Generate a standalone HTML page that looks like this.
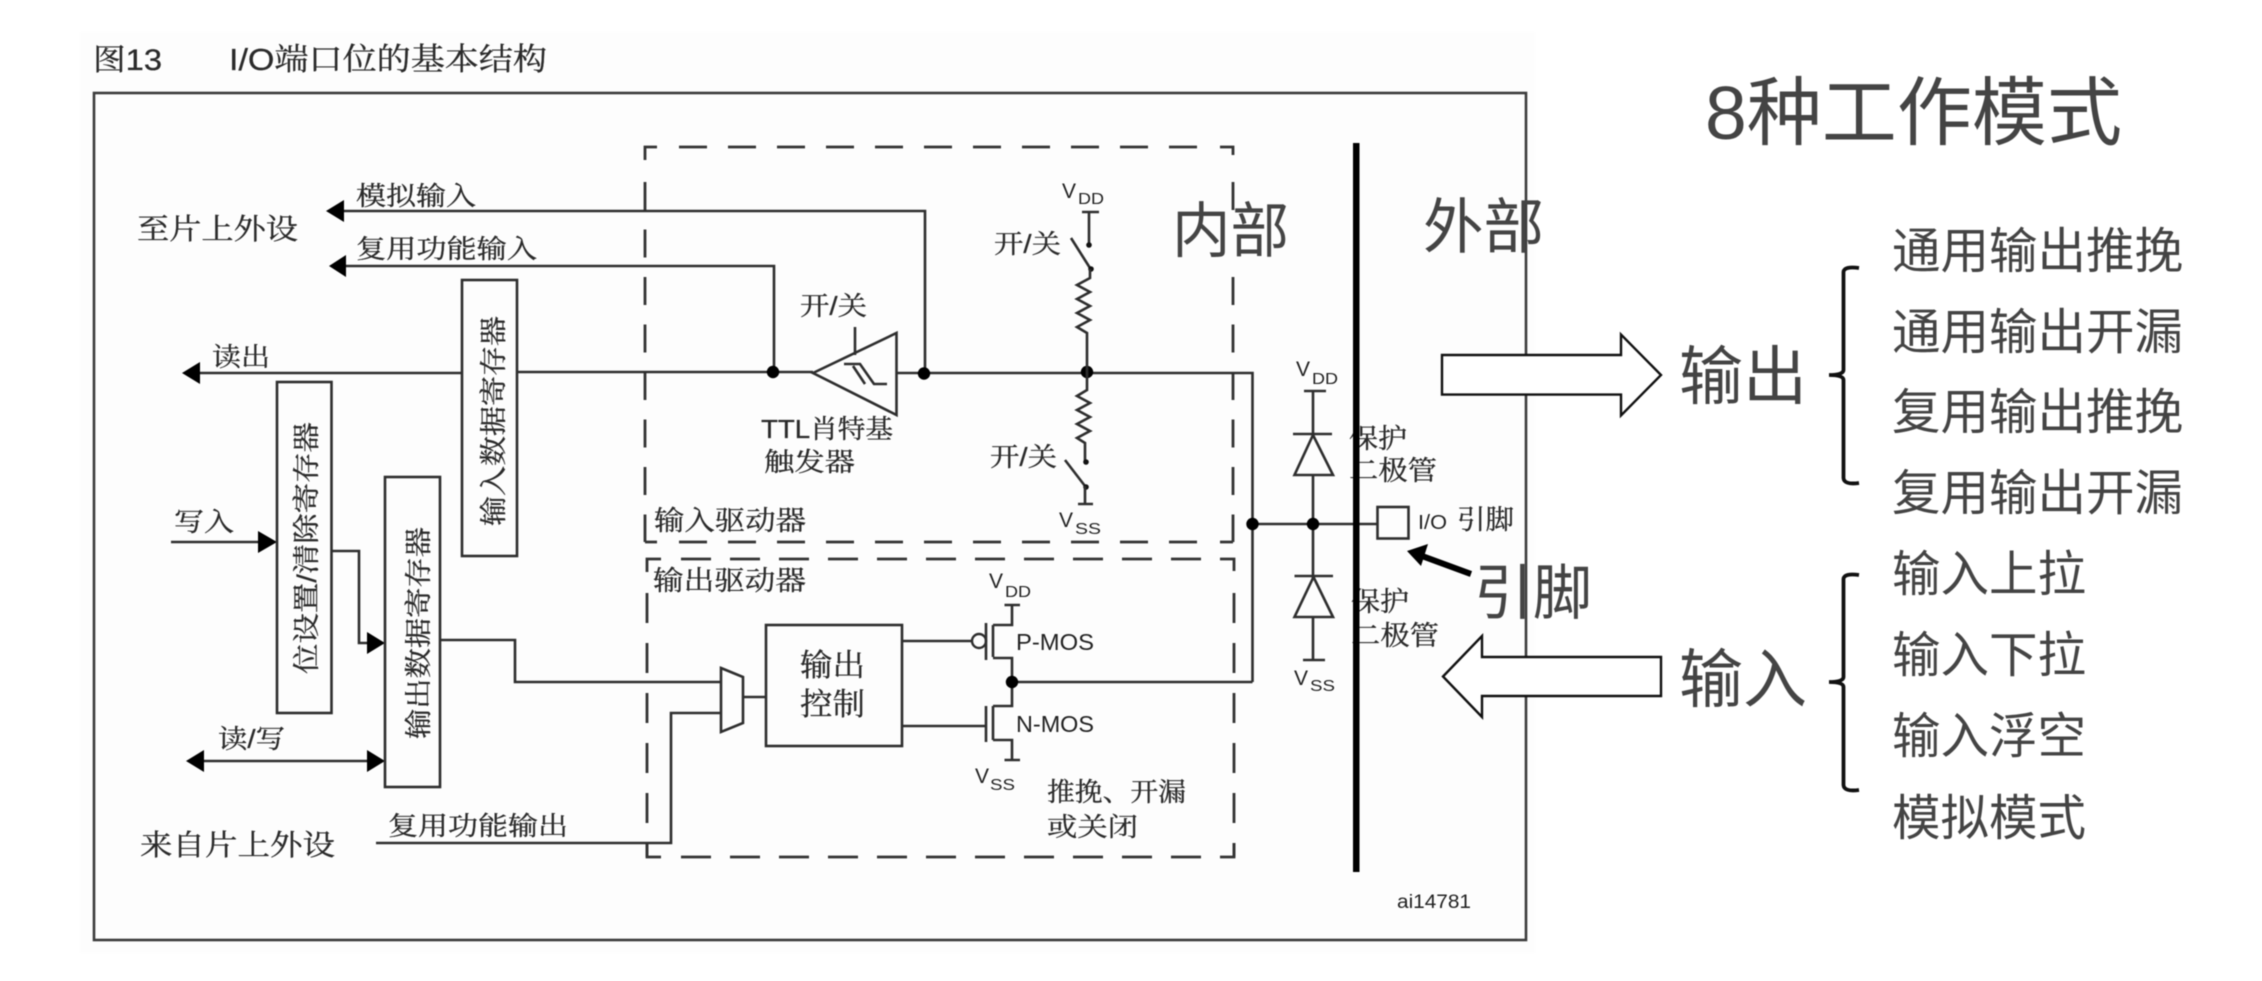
<!DOCTYPE html>
<html lang="zh"><head><meta charset="utf-8"><title>I/O端口位的基本结构</title>
<style>
html,body{margin:0;padding:0;background:#fff;width:2262px;height:981px;overflow:hidden}
svg{display:block;filter:blur(.4px)}
text{font-family:"Liberation Sans","Noto Serif CJK SC",serif;fill:#2a2a2a;stroke:#2a2a2a;stroke-width:.3}
.b{font-family:"Liberation Sans","Noto Sans CJK SC",sans-serif;fill:#444;stroke:none}
.l{font-family:"Liberation Sans",sans-serif;fill:#222;stroke:none}
.w{fill:none;stroke:#2e2e2e;stroke-width:2.6}
.d{fill:none;stroke:#333;stroke-width:2.8}
.dh{fill:none;stroke:#333;stroke-width:2.8;stroke-dasharray:28 21}
.dv{fill:none;stroke:#333;stroke-width:2.8;stroke-dasharray:28 19.500}
.dv2{fill:none;stroke:#333;stroke-width:2.8;stroke-dasharray:30 20}
.a{fill:#000;stroke:none}
</style></head><body>
<svg xmlns="http://www.w3.org/2000/svg" width="2262" height="981" viewBox="0 0 2262 981">
<rect width="2262" height="981" fill="#fff"/>
<rect x="80" y="32" width="1455" height="921" fill="#fdfdfd"/>
<rect x="94" y="93" width="1432" height="847" fill="none" stroke="#3c3c3c" stroke-width="2.6"/>

<text x="93" y="70" font-size="30" textLength="69" lengthAdjust="spacingAndGlyphs">图13</text>
<text x="229" y="70" font-size="31" textLength="318" lengthAdjust="spacingAndGlyphs">I/O端口位的基本结构</text>

<!-- dashed boxes: input driver -->
<path class="d" d="M645,160V147H657M1220,147H1233V155"/>
<path class="dh" d="M679,147H1200"/>
<path class="dv" d="M645,182V542"/>
<path class="dv" d="M1233,182V542"/>
<path class="dh" d="M679,542H1200"/>
<path class="d" d="M645,542H657M1220,542H1233"/>
<rect x="1225" y="212" width="16" height="60" fill="#fdfdfd"/>
<!-- dashed boxes: output driver -->
<path class="d" d="M647,572V559H661M1220,559H1234V571"/>
<path class="dh" d="M681,559H1205" style="stroke-dasharray:30 19"/>
<path class="dv2" d="M647,593V857"/>
<path class="dv2" d="M1234,593V857"/>
<path class="dh" d="M681,857H1205" style="stroke-dasharray:30 19"/>
<path class="d" d="M647,843V857H661M1220,857H1234V843"/>

<!-- wires -->
<path class="w" d="M344,211H925V373"/>
<path class="w" d="M346,266H774V372"/>
<path class="w" d="M200,373H462M517,372H813M895,373H1252.500V682"/>
<path class="w" d="M171,542H258"/>
<path class="w" d="M331,551H359V643H367"/>
<path class="w" d="M204,761H367"/>
<path class="w" d="M440,640H515V682H721"/>
<path class="w" d="M376,843H671V713H721"/>
<path class="w" d="M743,697H766"/>
<path class="w" d="M902,641H972M902,726H986"/>
<path class="w" d="M1012,682H1252.500"/>
<path class="w" d="M1252.500,524H1377"/>

<!-- arrowheads -->
<path class="a" d="M326,211L344,200V222Z"/>
<path class="a" d="M329,266L346,255V277Z"/>
<path class="a" d="M182,373L200,362V384Z"/>
<path class="a" d="M277,542L258,531V553Z"/>
<path class="a" d="M385,643L367,632V654Z"/>
<path class="a" d="M186,761L204,750V772Z"/>
<path class="a" d="M385,761L367,750V772Z"/>

<!-- registers -->
<rect x="462" y="280" width="55" height="276" class="w" style="fill:#fdfdfd"/>
<rect x="277" y="382" width="54.500" height="331" class="w" style="fill:#fdfdfd"/>
<rect x="385" y="477" width="55" height="310" class="w" style="fill:#fdfdfd"/>
<text transform="translate(503,526) rotate(-90)" font-size="27" textLength="210" lengthAdjust="spacingAndGlyphs">输入数据寄存器</text>
<text transform="translate(316,674) rotate(-90)" font-size="27" textLength="252" lengthAdjust="spacingAndGlyphs">位设置/清除寄存器</text>
<text transform="translate(428,739) rotate(-90)" font-size="27" textLength="212" lengthAdjust="spacingAndGlyphs">输出数据寄存器</text>

<!-- schmitt trigger -->
<path class="w" d="M813,373L896.500,333V415Z" style="fill:#fdfdfd"/>
<path class="w" d="M855,327V355"/>
<path class="w" d="M844,364H860L874,384H887M853,366L865,384"/>
<circle cx="773" cy="372" r="6.200" fill="#000"/>
<circle cx="924" cy="373.500" r="6.200" fill="#000"/>
<circle cx="1087" cy="372" r="6.200" fill="#000"/>

<!-- pull up / down -->
<path class="w" d="M1082,212H1099M1089,212V245"/>
<circle cx="1089" cy="245" r="2.800" fill="#111"/>
<path class="w" d="M1071,238L1090,268"/>
<circle cx="1091" cy="269" r="2.800" fill="#111"/>
<path class="w" d="M1090,269V278L1077,285L1090,292L1077,299L1090,306L1077,313L1090,320L1077,327L1087,333V372"/>
<path class="w" d="M1087,372V390L1077,396L1090,403L1077,410L1090,417L1077,424L1090,431L1077,438L1085,443V462"/>
<circle cx="1086" cy="462" r="2.800" fill="#111"/>
<path class="w" d="M1065,460L1085,486"/>
<circle cx="1086" cy="487" r="2.800" fill="#111"/>
<path class="w" d="M1085,486V504M1078,504H1093"/>

<!-- output stage -->
<path class="w" d="M721,668L743,677V723L721,732Z" style="fill:#fdfdfd"/>
<rect x="766" y="625" width="136" height="121" class="w" style="fill:#fdfdfd"/>
<circle cx="979" cy="641" r="7" fill="#fdfdfd" stroke="#2e2e2e" stroke-width="2.400"/>
<path class="w" d="M986,623V660M993,625V657M993,625H1012V605M1004.500,605H1020M993,658H1012V706H993M993,706V740M986,706V742M993,740H1012V760M1004.500,760H1020"/>
<circle cx="1012" cy="682" r="6.200" fill="#000"/>

<!-- diodes -->
<path class="w" d="M1304,391H1326M1313,391V660M1303,660H1325"/>
<path class="w" d="M1293,434H1332M1313,435L1294.500,475H1333Z" style="fill:#fdfdfd"/>
<path class="w" d="M1294.500,576H1333M1313.500,577L1294.500,617H1333Z" style="fill:#fdfdfd"/>
<circle cx="1252.500" cy="524" r="6.200" fill="#000"/>
<circle cx="1313" cy="524" r="6.200" fill="#000"/>

<!-- labels -->
<text x="137" y="239" font-size="29" textLength="161" lengthAdjust="spacingAndGlyphs">至片上外设</text>
<text x="356" y="205" font-size="26" textLength="120" lengthAdjust="spacingAndGlyphs">模拟输入</text>
<text x="356" y="258" font-size="26" textLength="181" lengthAdjust="spacingAndGlyphs">复用功能输入</text>
<text x="212" y="366" font-size="26" textLength="58" lengthAdjust="spacingAndGlyphs">读出</text>
<text x="174" y="531" font-size="26" textLength="60" lengthAdjust="spacingAndGlyphs">写入</text>
<text x="218" y="748" font-size="26" textLength="67" lengthAdjust="spacingAndGlyphs">读/写</text>
<text x="140" y="855" font-size="29" textLength="195" lengthAdjust="spacingAndGlyphs">来自片上外设</text>
<text x="388" y="835" font-size="26" textLength="180" lengthAdjust="spacingAndGlyphs">复用功能输出</text>
<text x="800" y="315" font-size="26" textLength="67" lengthAdjust="spacingAndGlyphs">开/关</text>
<text x="994" y="253" font-size="26" textLength="67" lengthAdjust="spacingAndGlyphs">开/关</text>
<text x="990" y="466" font-size="26" textLength="67" lengthAdjust="spacingAndGlyphs">开/关</text>
<text x="761" y="438" font-size="26" textLength="132" lengthAdjust="spacingAndGlyphs">TTL肖特基</text>
<text x="764" y="471" font-size="26" textLength="91" lengthAdjust="spacingAndGlyphs">触发器</text>
<text x="654" y="530" font-size="27" textLength="152" lengthAdjust="spacingAndGlyphs">输入驱动器</text>
<text x="653" y="590" font-size="27" textLength="153" lengthAdjust="spacingAndGlyphs">输出驱动器</text>
<text x="800" y="676" font-size="31" textLength="65" lengthAdjust="spacingAndGlyphs">输出</text>
<text x="800" y="715" font-size="31" textLength="65" lengthAdjust="spacingAndGlyphs">控制</text>
<text class="l" x="1016" y="650" font-size="23" textLength="78" lengthAdjust="spacingAndGlyphs">P-MOS</text>
<text class="l" x="1016" y="732" font-size="23" textLength="78" lengthAdjust="spacingAndGlyphs">N-MOS</text>
<text x="1047" y="801" font-size="26" textLength="139" lengthAdjust="spacingAndGlyphs">推挽、开漏</text>
<text x="1047" y="836" font-size="26" textLength="91" lengthAdjust="spacingAndGlyphs">或关闭</text>

<text class="l" x="1062" y="198" font-size="21">V</text><text class="l" x="1078" y="204" font-size="16" textLength="26" lengthAdjust="spacingAndGlyphs">DD</text>
<text class="l" x="1059" y="527" font-size="21">V</text><text class="l" x="1075" y="534" font-size="16" textLength="26" lengthAdjust="spacingAndGlyphs">SS</text>
<text class="l" x="1296" y="376" font-size="21">V</text><text class="l" x="1312" y="384" font-size="16" textLength="26" lengthAdjust="spacingAndGlyphs">DD</text>
<text class="l" x="1294" y="685" font-size="21">V</text><text class="l" x="1310" y="691" font-size="16" textLength="25" lengthAdjust="spacingAndGlyphs">SS</text>
<text class="l" x="989" y="588" font-size="21">V</text><text class="l" x="1005" y="597" font-size="16" textLength="26" lengthAdjust="spacingAndGlyphs">DD</text>
<text class="l" x="975" y="783" font-size="21">V</text><text class="l" x="990" y="790" font-size="16" textLength="25" lengthAdjust="spacingAndGlyphs">SS</text>

<text x="1349" y="448" font-size="27" textLength="58" lengthAdjust="spacingAndGlyphs">保护</text>
<text x="1349" y="480" font-size="27" textLength="88" lengthAdjust="spacingAndGlyphs">二极管</text>
<text x="1351" y="611" font-size="27" textLength="58" lengthAdjust="spacingAndGlyphs">保护</text>
<text x="1351" y="645" font-size="27" textLength="88" lengthAdjust="spacingAndGlyphs">二极管</text>

<text class="l" x="1418" y="529" font-size="20" textLength="29" lengthAdjust="spacingAndGlyphs">I/O</text>
<text x="1457" y="529" font-size="27" textLength="57" lengthAdjust="spacingAndGlyphs">引脚</text>
<text class="l" x="1397" y="908" font-size="19" textLength="74" lengthAdjust="spacingAndGlyphs">ai14781</text>

<!-- center bar -->
<rect x="1353" y="143" width="6.500" height="729" fill="#000"/>
<rect x="1377.500" y="507" width="31" height="31.500" class="w" style="fill:#fdfdfd"/>

<!-- small arrow -->
<path d="M1471,574L1422,556" stroke="#000" stroke-width="6" fill="none"/>
<path class="a" d="M1407,551L1428,544L1421,566Z"/>

<!-- overlays -->
<text class="b" x="1172" y="252" font-size="60" textLength="117" lengthAdjust="spacingAndGlyphs">内部</text>
<text class="b" x="1423" y="248" font-size="60" textLength="121" lengthAdjust="spacingAndGlyphs">外部</text>
<text class="b" x="1474" y="614" font-size="60" textLength="118" lengthAdjust="spacingAndGlyphs">引脚</text>
<text class="b" x="1705" y="139" font-size="75" textLength="417" lengthAdjust="spacingAndGlyphs">8种工作模式</text>

<path d="M1442,355H1621V334.500L1661,375L1621,415.500V394.600H1442Z" fill="#fff" stroke="#111" stroke-width="2.400"/>
<path d="M1443,676.500L1482,636V657H1661V696H1482V717Z" fill="#fff" stroke="#111" stroke-width="2.400"/>

<text class="b" x="1679" y="399" font-size="64" textLength="128" lengthAdjust="spacingAndGlyphs">输出</text>
<text class="b" x="1679" y="702" font-size="64" textLength="128" lengthAdjust="spacingAndGlyphs">输入</text>

<path d="M1859,268Q1844,266 1843.500,272V370Q1843.500,375 1829,375Q1843.500,375 1843.500,380V478Q1844,485 1859,483" fill="none" stroke="#111" stroke-width="3.800"/>
<path d="M1859,575Q1844,573 1843.500,579V677Q1843.500,682 1829,682Q1843.500,682 1843.500,687V785Q1844,792 1859,790" fill="none" stroke="#111" stroke-width="3.800"/>

<text class="b" x="1892" y="268" font-size="49" textLength="291" lengthAdjust="spacingAndGlyphs">通用输出推挽</text>
<text class="b" x="1892" y="349" font-size="49" textLength="291" lengthAdjust="spacingAndGlyphs">通用输出开漏</text>
<text class="b" x="1892" y="429" font-size="49" textLength="291" lengthAdjust="spacingAndGlyphs">复用输出推挽</text>
<text class="b" x="1892" y="510" font-size="49" textLength="291" lengthAdjust="spacingAndGlyphs">复用输出开漏</text>
<text class="b" x="1892" y="591" font-size="49" textLength="194" lengthAdjust="spacingAndGlyphs">输入上拉</text>
<text class="b" x="1892" y="672" font-size="49" textLength="194" lengthAdjust="spacingAndGlyphs">输入下拉</text>
<text class="b" x="1892" y="753" font-size="49" textLength="194" lengthAdjust="spacingAndGlyphs">输入浮空</text>
<text class="b" x="1892" y="835" font-size="49" textLength="194" lengthAdjust="spacingAndGlyphs">模拟模式</text>
</svg>
</body></html>
